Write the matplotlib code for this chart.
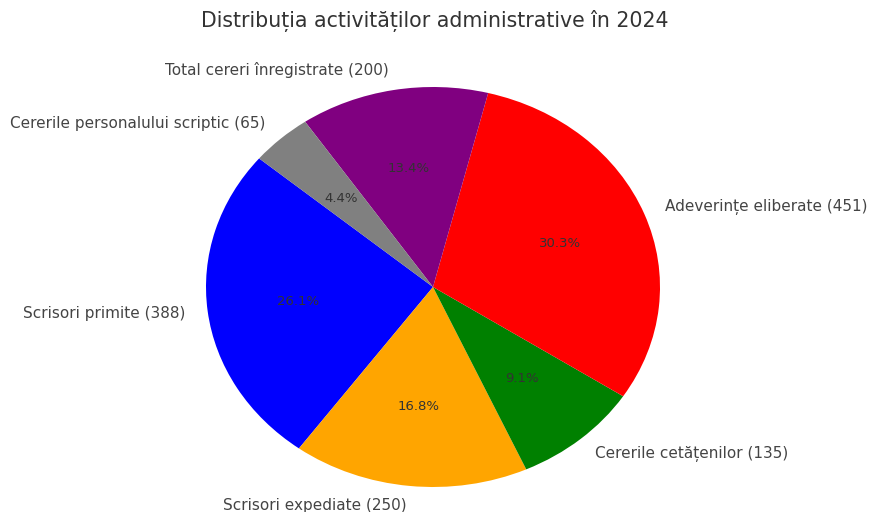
import matplotlib
matplotlib.use("Agg")
import matplotlib.pyplot as plt

labels = ["Scrisori primite", "Scrisori expediate", "Cererile cetățenilor",
          "Adeverințe eliberate", "Total cereri înregistrate",
          "Cererile personalului scriptic"]
values = [388, 250, 135, 451, 200, 65]
colors = ["blue", "orange", "green", "red", "purple", "gray"]

pie_labels = [f"{l} ({v})" for l, v in zip(labels, values)]

fig = plt.figure(figsize=(8.69, 5.12), dpi=100)
ax = fig.add_axes([0, 0, 1, 1])

wedges, texts, autotexts = ax.pie(values, labels=pie_labels, colors=colors,
                                  autopct="%1.1f%%", startangle=140,
                                  textprops={"color": "#444444", "fontsize": 11})
for t in autotexts:
    t.set_color("#333333")
    t.set_fontsize(9.5)

ax.set_aspect("auto")
# keep the slightly stretched look of the original
ax.set_xlim(-433 / 227, 436 / 227)
ax.set_ylim(-225 / 200, 287 / 200)
ax.axis("off")

fig.text(0.5, 1 - 21 / 512, "Distribuția activităților administrative în 2024",
         ha="center", va="center", fontsize=14.8, color="#333333")

fig.savefig("out.png", dpi=100)
